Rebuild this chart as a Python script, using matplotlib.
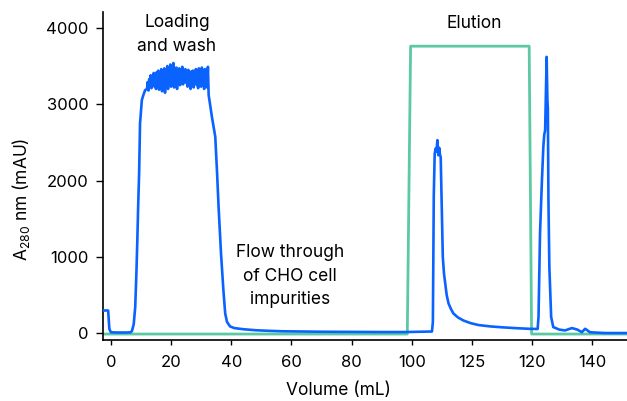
import matplotlib
matplotlib.use("Agg")
import matplotlib.pyplot as plt

plt.rcParams['font.family'] = ['Inter', 'DejaVu Sans']
plt.rcParams['mathtext.fontset'] = 'custom'
plt.rcParams['mathtext.rm'] = 'Inter'
plt.rcParams['mathtext.it'] = 'Inter'

# UV trace (A280) as (volume, mAU) pairs, x in axis units (ticks every 20)
loading = [(-2.6, 300), (-0.9, 300), (-0.5, 60), (0, 15), (2, 12), (5, 12), (6.5, 14),
           (7.0, 30), (7.6, 120), (8.1, 345), (8.5, 800), (8.8, 1219), (9.1, 1700),
           (9.4, 2097), (9.7, 2748), (10.3, 3054), (10.8, 3120), (11.4, 3185),
           (12.00, 3200), (12.25, 3290), (12.50, 3180), (12.75, 3330), (13.00, 3240),
           (13.25, 3380), (13.50, 3210), (13.75, 3350), (14.00, 3260), (14.25, 3410),
           (14.50, 3230), (14.75, 3390), (15.00, 3200), (15.25, 3420), (15.50, 3280),
           (15.75, 3440), (16.00, 3190), (16.25, 3400), (16.50, 3250), (16.75, 3460),
           (17.00, 3170), (17.25, 3380), (17.50, 3300), (17.75, 3470), (18.00, 3150),
           (18.25, 3420), (18.50, 3240), (18.75, 3500), (19.00, 3200), (19.25, 3430),
           (19.50, 3280), (19.75, 3520), (20.00, 3230), (20.25, 3460), (20.50, 3300),
           (20.75, 3540), (21.00, 3220), (21.25, 3450), (21.50, 3270), (21.75, 3480),
           (22.00, 3200), (22.25, 3430), (22.50, 3290), (22.75, 3470), (23.00, 3250),
           (23.25, 3440), (23.50, 3310), (23.75, 3490), (24.00, 3260), (24.25, 3420),
           (24.50, 3300), (24.75, 3460), (25.00, 3280), (25.25, 3410), (25.50, 3230),
           (25.75, 3450), (26.00, 3290), (26.25, 3400), (26.50, 3200), (26.75, 3430),
           (27.00, 3260), (27.25, 3440), (27.50, 3220), (27.75, 3420), (28.00, 3270),
           (28.25, 3460), (28.50, 3250), (28.75, 3430), (29.00, 3210), (29.25, 3470),
           (29.50, 3280), (29.75, 3450), (30.00, 3230), (30.25, 3480), (30.50, 3260),
           (30.75, 3440), (31.00, 3200), (31.25, 3460), (31.50, 3240), (31.75, 3410),
           (32.00, 3220), (32.25, 3490), (32.50, 3120), (32.75, 3050), (33.00, 2990),
           (33.6, 2830), (34.7, 2573), (35.3, 2100), (35.8, 1655), (36.6, 1050),
           (37.4, 563), (38.0, 260), (38.6, 150), (39.6, 92)]
flow = [(41, 70), (44, 55), (48, 42), (51.8, 35), (57, 28), (62.9, 25), (70, 22),
        (79.5, 20), (90, 18), (98, 18), (106.7, 25)]
peak1 = [(107.0, 150), (107.3, 1800), (107.6, 2350), (107.9, 2420), (108.2, 2380),
         (108.5, 2530), (108.8, 2333), (109.1, 2430), (109.4, 2330), (109.6, 2310),
         (110.0, 1572), (110.3, 1000), (110.7, 780), (111.1, 655), (111.6, 500),
         (112.2, 393), (113.0, 320), (113.8, 262), (115.3, 210), (117.1, 170),
         (119.5, 135), (122.1, 110), (126, 92), (130, 80), (135, 68), (139.3, 60),
         (141.8, 58)]
peak2 = [(142.1, 214), (142.6, 1310), (143.2, 1966), (143.7, 2442), (144.0, 2600),
         (144.3, 2660), (144.6, 3276), (144.8, 3620), (145.05, 3054), (145.2, 2950),
         (145.4, 1743), (145.7, 870), (146.3, 214), (147.0, 83), (149, 50), (150.9, 39),
         (153.2, 70), (155, 50), (156.5, 17), (157.6, 61), (159.2, 15), (164.2, 5),
         (171.5, 5)]

# Buffer / step trace
step_x = [-2.6, 98.5, 99.6, 139.0, 139.8, 171.5]
step_y = [-8, -8, 3760, 3760, -8, -8]

tick_pos = [0, 20, 40, 60, 80, 100, 120, 140, 160]
tick_lab = ['0', '20', '40', '60', '80', '100', '125', '120', '140']

uv = loading + flow + peak1 + peak2
uv_x = [p[0] for p in uv]
uv_y = [p[1] for p in uv]

fig = plt.figure(figsize=(6.27, 4.01), dpi=100)
ax = fig.add_axes([0.1643, 0.151, 0.8357, 0.819])

ax.plot(step_x, step_y, color='#5cc9a3', lw=2.0, zorder=2)
ax.plot(uv_x, uv_y, color='#0a62ff', lw=1.9, zorder=3)

ax.set_xlim(-2.6, 171.5)
ax.set_ylim(-92, 4207)
ax.set_xticks(tick_pos)
ax.set_xticklabels(tick_lab)
ax.set_yticks([0, 1000, 2000, 3000, 4000])
ax.tick_params(labelsize=12, width=1, direction='out')
ax.tick_params(axis='x', length=3.6, pad=7)
ax.tick_params(axis='y', length=5, pad=5.5)

for s in ['top', 'right']:
    ax.spines[s].set_visible(False)
for s in ['left', 'bottom']:
    ax.spines[s].set_linewidth(1.2)

ax.set_xlabel('Volume (mL)', fontsize=12.5)
ax.xaxis.set_label_coords(0.449, -0.128)
ax.set_ylabel(r'A$_{280}$ nm (mAU)', fontsize=12.5)
ax.yaxis.set_label_coords(-0.135, 0.43)

ax.text(22, 3916, 'Loading\nand wash', ha='center', va='center', fontsize=12.5, linespacing=1.5)
ax.text(59.6, 747, 'Flow through\nof CHO cell\nimpurities', ha='center', va='center',
        fontsize=12.5, linespacing=1.5)
ax.text(120.9, 4056, 'Elution', ha='center', va='center', fontsize=12.5)

fig.savefig('out.png', dpi=100)
